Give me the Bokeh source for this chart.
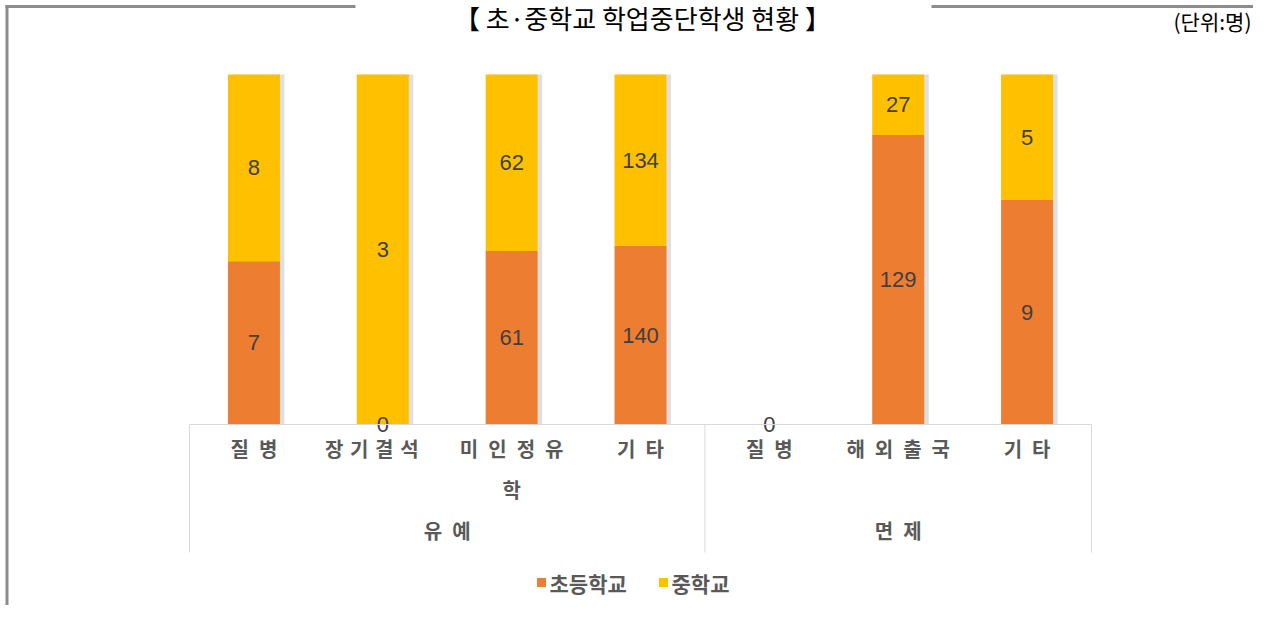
from bokeh.plotting import figure
from bokeh.models import Range1d, ColumnDataSource
from bokeh.core.properties import value
from bokeh.embed import file_html
from bokeh.resources import INLINE

# ---------------- data ----------------
title_text = "【 초·중학교 학업중단학생 현황 】"
unit_text = "(단위:명)"
groups = ["유예", "유예", "유예", "유예", "면제", "면제", "면제"]
subcats = ["질병", "장기결석", "미인정유학", "기타", "질병", "해외출국", "기타"]
tick_labels = ["질\u2002병", "장\u2004기\u2004결\u2004석", "미\u2002인\u2002정\u2002유\n학",
               "기\u2002타", "질\u2002병", "해\u2002외\u2002출\u2002국", "기\u2002타"]
group_names = ["유예", "면제"]
group_labels = ["유\u2002예", "면\u2002제"]
series_names = ["초등학교", "중학교"]
elementary = [7, 0, 61, 140, 0, 129, 9]
middle = [8, 3, 62, 134, 0, 27, 5]
series_colors = ["#ED7D31", "#FFC000"]

# ---------------- layout ----------------
W, H = 1253, 605
AX_L, AX_R = 189, 1091          # category axis extent on the canvas
BASE, TOP = 424, 74             # 0% and 100% on the canvas
KFONT = value("Noto Sans CJK KR")
NFONT = value("Liberation Sans")

n = len(subcats)
unit_px = (AX_R - AX_L) / n
xs = [i + 0.5 for i in range(n)]                      # category slots
totals = [a + b for a, b in zip(elementary, middle)]
share_e = [a / t if t else 0 for a, t in zip(elementary, totals)]
share_m = [b / t if t else 0 for b, t in zip(middle, totals)]


def sx(px):
    # canvas pixel -> category-slot coordinate
    return (px - AX_L) / unit_px


full = BASE - TOP
x_range = Range1d(sx(0), sx(W))
y_range = Range1d(-(H - BASE) / full, 1 + TOP / full)

p = figure(width=W, height=H, x_range=x_range, y_range=y_range,
           output_backend="svg", toolbar_location=None, min_border=0,
           x_axis_location=None, y_axis_location=None,
           outline_line_color=None, background_fill_color="white",
           border_fill_color="white")
p.extra_y_ranges = {"px": Range1d(H, 0)}
p.xgrid.visible = False
p.ygrid.visible = False

# frame lines
p.segment(x0=[sx(6.5), sx(5), sx(931)], x1=[sx(6.5), sx(355), sx(W)],
          y0=[5, 6, 6], y1=[H, 6, 6], y_range_name="px",
          line_color="#8c8c8c", line_width=3)

# title and unit
p.text(x=[sx(642)], y=[17], text=[title_text], y_range_name="px",
       text_font=KFONT, text_font_size="26px", text_color="#000000",
       text_align="center", text_baseline="middle")
p.text(x=[sx(1251)], y=[20], text=[unit_text], y_range_name="px",
       text_font=KFONT, text_font_size="21px", text_color="#000000",
       text_align="right", text_baseline="middle")

# bar shadows
bar_w = 52 / unit_px
shadow_x = [x + 0.035 for x in xs]
shadow_top = [1 if t else 0 for t in totals]
p.vbar(x=shadow_x, top=shadow_top, width=bar_w, fill_color="#b8b8b8",
       fill_alpha=0.45, line_color=None)

# stacked bars
src = ColumnDataSource({"x": xs, series_names[0]: share_e, series_names[1]: share_m})
p.vbar_stack(series_names, x="x", width=bar_w, fill_color=series_colors,
             line_color=None, source=src)

# data labels
lab_x, lab_y, lab_t = [], [], []
for i in range(n):
    lo = 0.0
    for k, (vals, shares) in enumerate(((elementary, share_e), (middle, share_m))):
        if totals[i] == 0 and k > 0:
            continue
        lab_x.append(xs[i])
        lab_y.append(lo + shares[i] / 2)
        lab_t.append(str(vals[i]))
        lo += shares[i]
p.text(x=lab_x, y=lab_y, text=lab_t, text_font=NFONT, text_font_size="22px",
       text_color="#404040", text_align="center", text_baseline="middle")

# axis line and group separators
p.segment(x0=[0], x1=[n], y0=[BASE], y1=[BASE], y_range_name="px",
          line_color="#d9d9d9", line_width=1)
bounds = [0] + [i for i in range(1, n) if groups[i] != groups[i - 1]] + [n]
p.segment(x0=bounds, x1=bounds, y0=[BASE] * len(bounds), y1=[552] * len(bounds),
          y_range_name="px", line_color="#d9d9d9", line_width=1)

# category labels
tick_src = ColumnDataSource(dict(x=xs, y=[433] * n, t=tick_labels,
                                 xo=[0, -11, 0, 0, 0, 0, 0]))
p.text(x="x", y="y", text="t", x_offset="xo", source=tick_src, y_range_name="px",
       text_font=KFONT, text_font_size="20px", text_font_style="bold",
       text_color="#595959", text_align="center", text_baseline="top",
       text_line_height=1.43)

# group labels
group_x = [sum(x for x, g in zip(xs, groups) if g == name) / groups.count(name)
           for name in group_names]
p.text(x=group_x, y=[530] * len(group_names), text=group_labels, y_range_name="px",
       text_font=KFONT, text_font_size="20px", text_font_style="bold",
       text_color="#595959", text_align="center", text_baseline="middle")

# legend
p.rect(x=[sx(541), sx(663)], y=[582, 582], width=9 / unit_px, height=9, y_range_name="px",
       fill_color=series_colors, line_color=None)
p.text(x=[sx(549), sx(671)], y=[582, 582], text=series_names,
       y_range_name="px", text_font=KFONT, text_font_size="21px",
       text_font_style="bold", text_color="#595959", text_align="left",
       text_baseline="middle")

open("out.html", "w").write(file_html(p, INLINE))
